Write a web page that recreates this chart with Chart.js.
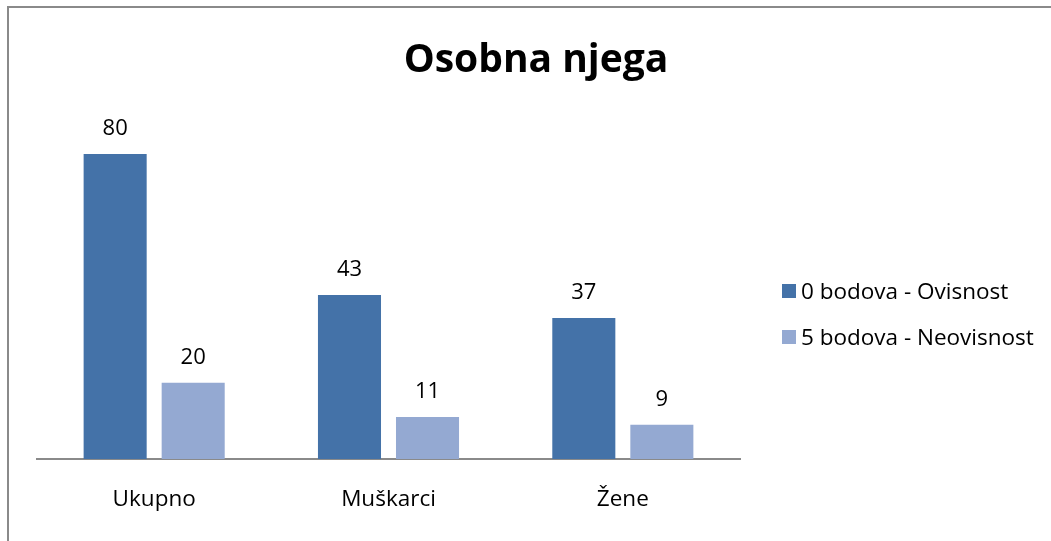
<!DOCTYPE html>
<html><head><meta charset="utf-8">
<script src="https://cdn.jsdelivr.net/npm/chart.js@4.4.1/dist/chart.umd.min.js"></script>
<style>
html,body{margin:0;padding:0;background:#fff;overflow:hidden;}
#frame{position:absolute;left:7px;top:6px;width:1100px;height:600px;border:2px solid #8a8a8a;box-sizing:border-box;}
#wrap{position:absolute;left:0;top:0;width:1051px;height:541px;}
</style></head><body>
<div id="frame"></div>
<div id="wrap"><canvas id="c" width="1051" height="541"></canvas></div>
<script>
const categories = ["Ukupno", "Muškarci", "Žene"];
const seriesNames = ["0 bodova - Ovisnost", "5 bodova - Neovisnost"];
const dependent = [80, 43, 37];
const independent = [20, 11, 9];
const colors = ["#4472A8", "#94A9D2"];
const FONT = "'Open Sans', sans-serif";

const dataLabels = {
  id: 'dataLabels',
  afterDatasetsDraw(chart) {
    const ctx = chart.ctx;
    ctx.save();
    ctx.font = "22px " + FONT;
    ctx.fillStyle = "#000";
    ctx.textAlign = "center";
    ctx.textBaseline = "alphabetic";
    chart.data.datasets.forEach((ds, i) => {
      chart.getDatasetMeta(i).data.forEach((bar, j) => {
        ctx.fillText(String(ds.data[j]), bar.x, bar.y - 19);
      });
    });
    ctx.restore();
  }
};
const customLegend = {
  id: 'customLegend',
  afterDraw(chart) {
    const ctx = chart.ctx;
    ctx.save();
    ctx.font = "22.5px " + FONT;
    ctx.textBaseline = "alphabetic";
    ctx.textAlign = "left";
    const ys = [299, 345];
    chart.data.datasets.forEach((ds, i) => {
      ctx.fillStyle = ds.backgroundColor;
      ctx.fillRect(782, ys[i] - 15, 14, 14);
      ctx.fillStyle = "#000";
      ctx.fillText(ds.label, 801, ys[i]);
    });
    ctx.restore();
  }
};
const titlePlugin = {
  id: 'titleText',
  afterDraw(chart) {
    const ctx = chart.ctx;
    ctx.save();
    ctx.font = "bold 39px " + FONT;
    ctx.fillStyle = "#000";
    ctx.textAlign = "center";
    ctx.textBaseline = "alphabetic";
    ctx.fillText("Osobna njega", 536, 72);
    ctx.restore();
  }
};

new Chart(document.getElementById('c'), {
  type: 'bar',
  data: {
    labels: categories,
    datasets: [
      { label: seriesNames[0], data: dependent, backgroundColor: colors[0] },
      { label: seriesNames[1], data: independent, backgroundColor: colors[1] }
    ]
  },
  options: {
    responsive: false,
    animation: false,
    devicePixelRatio: 1,
    layout: { padding: { left: 37, right: 311, top: 116, bottom: 1 } },
    datasets: { bar: { categoryPercentage: 0.666, barPercentage: 0.808 } },
    plugins: {
      legend: { display: false },
      tooltip: { enabled: false },
      title: { display: false }
    },
    scales: {
      x: {
        grid: { display: false, drawTicks: false },
        border: { display: true, color: "#8a8a8a", width: 2 },
        ticks: { color: "#000", font: { family: FONT, size: 22.5 }, padding: 27 }
      },
      y: {
        display: false, min: 0, max: 90
      }
    }
  },
  plugins: [dataLabels, customLegend, titlePlugin]
});
</script>
</body></html>
